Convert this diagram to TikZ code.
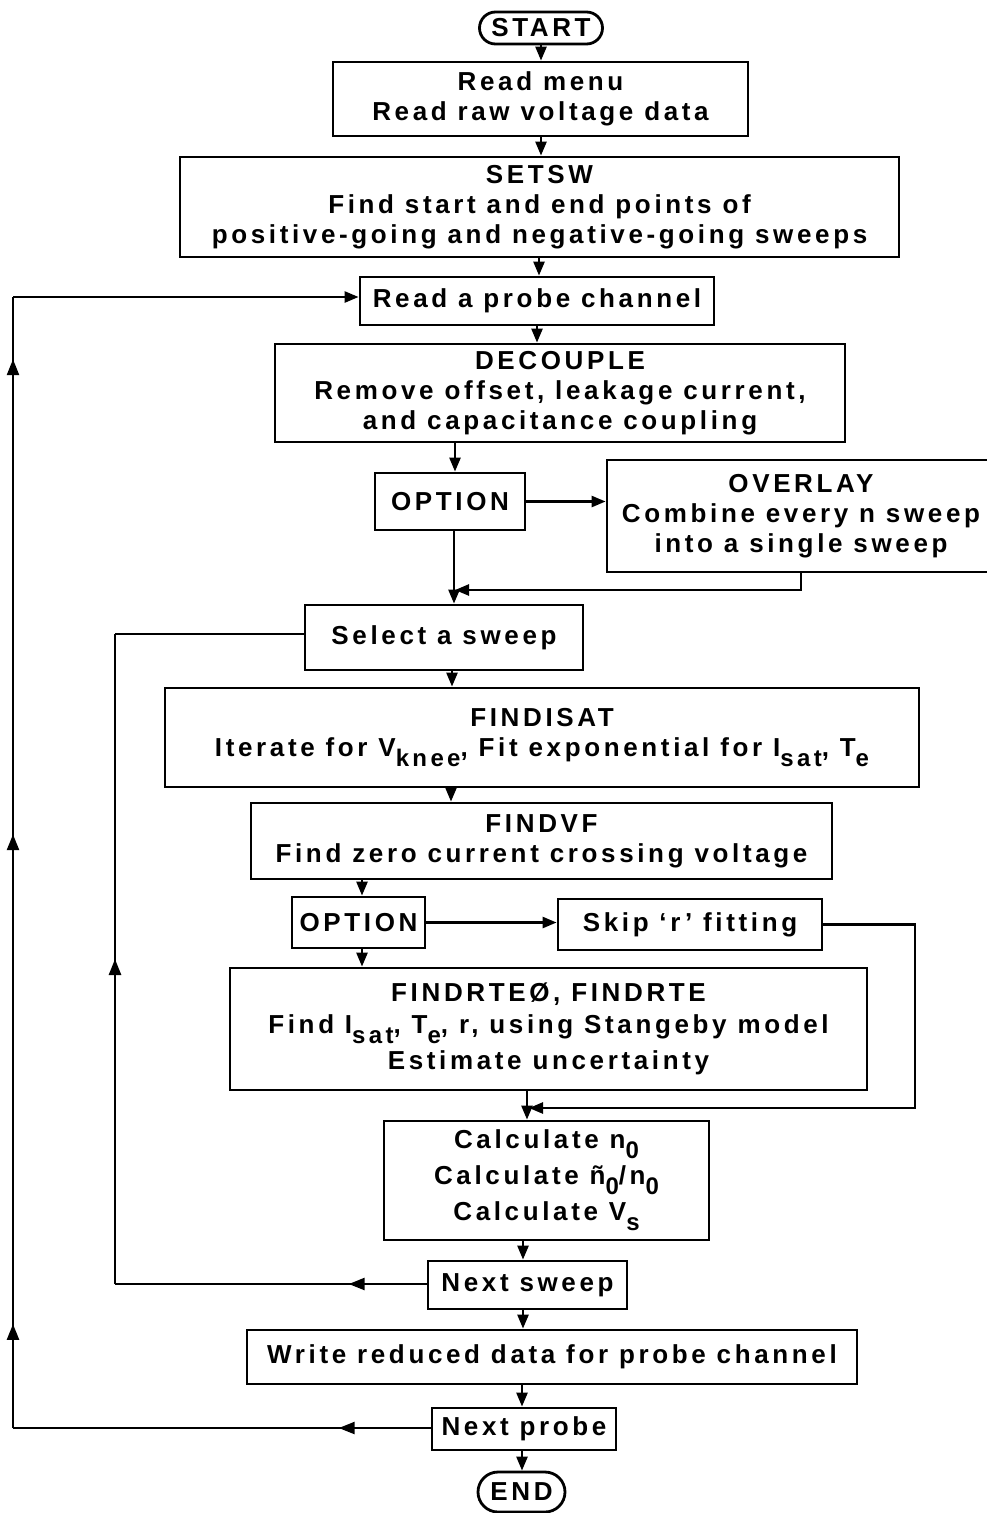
\documentclass[tikz,border=0pt]{standalone}
\usepackage{fontspec}
\setmainfont{Liberation Sans}[LetterSpace=14]
\usetikzlibrary{arrows.meta,decorations.markings,shapes.misc}
\newcommand\lsub[1]{\raisebox{-10pt}{\fontsize{24}{24}\selectfont #1}}
\tikzset{
  every node/.style={font=\fontsize{26}{30}\selectfont\bfseries},
  box/.style={draw, line width=2.8pt, rectangle, align=center, inner sep=0pt},
  term/.style={draw, line width=2.8pt, rounded rectangle, align=center, inner sep=0pt},
  conn/.style={line width=2.5pt},
  arr/.style={line width=2.5pt, -{Triangle[length=14pt,width=11pt]}},
  midarr/.style={postaction={decorate}, decoration={markings, mark=at position #1 with {\arrow{Triangle[length=16pt,width=12pt]}}}}
}
\begin{document}
\begin{tikzpicture}[x=1pt,y=-1pt]
\useasboundingbox (0,0) rectangle (986,1513);
\fill[white] (0,0) rectangle (986,1513);

\node[term, minimum width=123pt, minimum height=32pt] (start) at (541,28) {START};
\node[box, minimum width=415pt, minimum height=74pt] (readmenu) at (540.5,99) {Read menu\\Read raw voltage data};
\node[box, minimum width=719pt, minimum height=100pt] (setsw) at (539.5,207) {SETSW\\Find start and end points of\\positive-going and negative-going sweeps};
\node[box, minimum width=354pt, minimum height=48pt] (readprobe) at (537,301) {Read a probe channel};
\node[box, minimum width=570pt, minimum height=98pt] (decouple) at (560,393) {DECOUPLE\\Remove offset, leakage current,\\and capacitance coupling};
\node[box, minimum width=150pt, minimum height=57pt] (opt1) at (450,501.5) {OPTION};
\node[box, minimum width=388pt, minimum height=112pt] (overlay) at (801,516) {OVERLAY\\Combine every n sweep\\into a single sweep};
\node[box, minimum width=278pt, minimum height=65pt] (select) at (444,637.5) {Select a sweep};
\node[box, minimum width=754pt, minimum height=99pt] (findisat) at (542,737.5) {FINDISAT\\Iterate for V\lsub{knee}, Fit exponential for I\lsub{sat}, T\lsub{e}};
\node[box, minimum width=581pt, minimum height=76pt] (findvf) at (541.5,841) {FINDVF\\Find zero current crossing voltage};
\node[box, minimum width=133pt, minimum height=51pt] (opt2) at (358.5,922.5) {OPTION};
\node[box, minimum width=264pt, minimum height=51pt] (skip) at (690,924.5) {Skip `r' fitting};
\node[box, minimum width=637pt, minimum height=122pt] (findrte) at (548.5,1029) {FINDRTEØ, FINDRTE\\[2pt]Find I\lsub{sat}, T\lsub{e}, r, using Stangeby model\\[6pt]Estimate uncertainty};
\node[box, minimum width=325pt, minimum height=119pt] (calc) at (546.5,1180.5) {Calculate n\lsub{0}\\[6pt]Calculate ñ\lsub{0}/n\lsub{0}\\[6pt]Calculate V\lsub{s}};
\node[box, minimum width=199pt, minimum height=48pt] (nextsweep) at (527.5,1285) {Next sweep};
\node[box, minimum width=610pt, minimum height=54pt] (write) at (552,1357) {Write reduced data for probe channel};
\node[box, minimum width=184pt, minimum height=42pt] (nextprobe) at (524,1429) {Next probe};
\node[term, minimum width=87pt, minimum height=40pt] (end) at (521.5,1492) {END};

% main flow
\draw[arr] (start.south -| 541,0) -- (readmenu.north -| 541,0);
\draw[arr] (readmenu.south -| 541,0) -- (setsw.north -| 541,0);
\draw[arr] (setsw.south -| 539,0) -- (readprobe.north -| 539,0);
\draw[arr] (readprobe.south -| 537,0) -- (decouple.north -| 537,0);
\draw[arr] (decouple.south -| 455,0) -- (opt1.north -| 455,0);
\draw[arr] (opt1.south -| 454,0) -- (select.north -| 454,0);
\draw[arr] (opt1.east) -- (opt1.east -| overlay.west);
\coordinate (j1) at (455,590);
\draw[arr] (overlay.south) |- (j1);
\draw[arr] (select.south -| 452,0) -- (findisat.north -| 452,0);
\draw[arr] (findisat.south -| 451,0) -- (findvf.north -| 451,0);
\draw[arr] (findvf.south -| 362,0) -- (opt2.north -| 362,0);
\draw[arr] (opt2.south -| 362,0) -- (findrte.north -| 362,0);
\draw[arr] (opt2.east) -- (opt2.east -| skip.west);
\coordinate (k1) at (915,924.5);
\coordinate (k2) at (915,1108);
\coordinate (k3) at (529,1108);
\draw[arr] (skip.east) -- (k1) -- (k2) -- (k3);
\draw[arr] (findrte.south -| 527,0) -- (calc.north -| 527,0);
\draw[arr] (calc.south -| 523,0) -- (nextsweep.north -| 523,0);
\draw[arr] (nextsweep.south -| 523,0) -- (write.north -| 523,0);
\draw[arr] (write.south -| 522,0) -- (nextprobe.north -| 522,0);
\draw[arr] (nextprobe.south -| 522,0) -- (end.north -| 522,0);

% inner loop
\coordinate (i1) at (115,1284);
\coordinate (i2) at (115,634);
\draw[conn, midarr=0.25] (i1 -| nextsweep.west) -- (i1);
\draw[conn, midarr=0.5] (i1) -- (i2);
\draw[conn] (i2) -- (i2 -| select.west);

% outer loop
\coordinate (o1) at (13,1428);
\coordinate (o2) at (13,297);
\draw[conn, midarr=0.22] (o1 -| nextprobe.west) -- (o1);
\draw[conn, postaction={decorate}, decoration={markings,
   mark=at position 0.092 with {\arrow{Triangle[length=16pt,width=12pt]}},
   mark=at position 0.525 with {\arrow{Triangle[length=16pt,width=12pt]}},
   mark=at position 0.945 with {\arrow{Triangle[length=16pt,width=12pt]}}}] (o1) -- (o2);
\draw[arr] (o2) -- (o2 -| readprobe.west);
\end{tikzpicture}
\end{document}
